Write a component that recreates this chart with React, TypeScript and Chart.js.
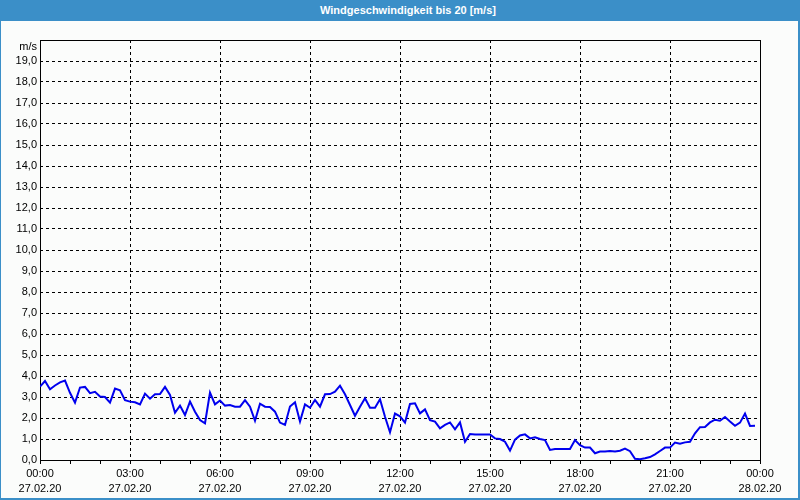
import React, { useEffect, useRef } from 'react';
import { Chart, registerables } from 'chart.js';

Chart.register(...registerables);

const TITLE = 'Windgeschwindigkeit bis 20 [m/s]';
const UNIT = 'm/s';
const SAMPLE_MINUTES = 10;
const DAY_MINUTES = 1440;
const MAJOR_MINUTES = 180;
const MINOR_MINUTES = 60;
const Y_MAX = 20;

// wind speed [m/s], one value every 10 minutes starting 27.02.20 00:00
const windSpeed = [
  3.49, 3.76, 3.37, 3.55, 3.70, 3.78, 3.20, 2.73, 3.45, 3.48,
  3.18, 3.25, 3.02, 3.00, 2.73, 3.40, 3.32, 2.85, 2.78, 2.75,
  2.65, 3.16, 2.92, 3.13, 3.14, 3.48, 3.10, 2.25, 2.59, 2.14,
  2.78, 2.30, 1.90, 1.75, 3.21, 2.65, 2.83, 2.59, 2.62, 2.54,
  2.54, 2.85, 2.54, 1.87, 2.68, 2.54, 2.52, 2.30, 1.78, 1.67,
  2.55, 2.75, 1.83, 2.65, 2.49, 2.86, 2.54, 3.13, 3.14, 3.25,
  3.54, 3.13, 2.62, 2.11, 2.54, 2.94, 2.49, 2.49, 2.89, 2.06,
  1.32, 2.21, 2.08, 1.78, 2.67, 2.70, 2.22, 2.41, 1.90, 1.83,
  1.51, 1.67, 1.79, 1.46, 1.79, 0.87, 1.24, 1.22, 1.22, 1.22,
  1.22, 1.03, 1.00, 0.87, 0.45, 0.97, 1.17, 1.22, 1.03, 1.08,
  1.00, 0.95, 0.48, 0.52, 0.52, 0.52, 0.52, 0.95, 0.71, 0.59,
  0.59, 0.32, 0.40, 0.40, 0.43, 0.40, 0.44, 0.54, 0.42, 0.06,
  0.04, 0.08, 0.14, 0.27, 0.43, 0.59, 0.59, 0.83, 0.78, 0.84,
  0.87, 1.27, 1.56, 1.57, 1.79, 1.92, 1.87, 2.05, 1.83, 1.63,
  1.78, 2.21, 1.62, 1.63,
];

const xTimeLabels = ['00:00', '03:00', '06:00', '09:00', '12:00', '15:00', '18:00', '21:00', '00:00'];
const xDateLabels = ['27.02.20', '27.02.20', '27.02.20', '27.02.20', '27.02.20', '27.02.20', '27.02.20', '27.02.20', '28.02.20'];
const yTickLabels = [
  '0,0', '1,0', '2,0', '3,0', '4,0', '5,0', '6,0', '7,0', '8,0', '9,0',
  '10,0', '11,0', '12,0', '13,0', '14,0', '15,0', '16,0', '17,0', '18,0', '19,0',
];

const FONT_FAMILY = '"Liberation Sans", Arial, sans-serif';

const framePlugin = {
  id: 'plotFrame',
  beforeDatasetsDraw(chart: any) {
    const { ctx, chartArea: a } = chart;
    ctx.save();
    ctx.strokeStyle = '#000';
    ctx.lineWidth = 1;
    ctx.setLineDash([]);
    const l = Math.round(a.left) + 0.5;
    const t = Math.round(a.top) + 0.5;
    const r = Math.round(a.right) + 0.5;
    const b = Math.round(a.bottom) + 0.5;
    ctx.strokeRect(l, t, r - l, b - t);
    ctx.restore();
  },
  afterDraw(chart: any) {
    const { ctx, chartArea: a } = chart;
    ctx.save();
    ctx.font = `11px ${FONT_FAMILY}`;
    ctx.fillStyle = '#000';
    ctx.textAlign = 'right';
    ctx.textBaseline = 'middle';
    ctx.fillText(UNIT, a.left - 3, a.top + 7);
    ctx.restore();
  },
};

export default function App() {
  const canvasRef = useRef<HTMLCanvasElement | null>(null);

  useEffect(() => {
    const canvas = canvasRef.current;
    if (!canvas) return;
    const points = windSpeed.map((v, i) => ({ x: i * SAMPLE_MINUTES, y: v }));
    const chart = new Chart(canvas, {
      type: 'line',
      data: {
        datasets: [
          {
            data: points,
            borderColor: '#0000ee',
            borderWidth: 2,
            pointRadius: 0,
            tension: 0,
            fill: false,
          },
        ],
      },
      options: {
        animation: false,
        responsive: false,
        events: [],
        layout: { padding: { top: 19, right: 38, bottom: 0, left: 0 } },
        plugins: {
          legend: { display: false },
          title: { display: false },
          tooltip: { enabled: false },
        },
        scales: {
          x: {
            type: 'linear',
            min: 0,
            max: DAY_MINUTES,
            afterFit: (s: any) => {
              s.height = 38;
            },
            ticks: {
              stepSize: MINOR_MINUTES,
              autoSkip: false,
              maxRotation: 0,
              minRotation: 0,
              padding: 3,
              color: '#000',
              font: { family: FONT_FAMILY, size: 11, lineHeight: 1.35 },
              callback: (v: any) => {
                const n = Number(v);
                if (n % MAJOR_MINUTES !== 0) return '';
                const k = n / MAJOR_MINUTES;
                return [xTimeLabels[k], xDateLabels[k]];
              },
            },
            grid: {
              color: (c: any) =>
                c.tick && c.tick.value % MAJOR_MINUTES === 0 && c.tick.value > 0 && c.tick.value < DAY_MINUTES
                  ? '#000'
                  : 'rgba(0,0,0,0)',
              lineWidth: 1,
              drawTicks: true,
              tickLength: 4,
              tickColor: '#000',
              tickWidth: 1,
            },
            border: { display: false, dash: [3, 3] },
          },
          y: {
            min: 0,
            max: Y_MAX,
            afterFit: (s: any) => {
              s.width = 39;
            },
            ticks: {
              stepSize: 1,
              padding: 3,
              color: '#000',
              font: { family: FONT_FAMILY, size: 11 },
              callback: (v: any) => {
                const n = Math.round(Number(v));
                return n < yTickLabels.length ? yTickLabels[n] : '';
              },
            },
            grid: {
              drawTicks: false,
              lineWidth: 1,
              color: (c: any) =>
                c.tick && c.tick.value > 0 && c.tick.value < Y_MAX ? '#000' : 'rgba(0,0,0,0)',
            },
            border: { display: false, dash: [3, 3] },
          },
        },
      },
      plugins: [framePlugin],
    } as any);
    return () => chart.destroy();
  }, []);

  return (
    <div
      style={{
        position: 'fixed',
        left: 0,
        top: 0,
        width: 800,
        height: 500,
        background: '#3b8fc8',
        overflow: 'hidden',
      }}
    >
      <div
        style={{
          height: 21,
          lineHeight: '21px',
          color: '#fff',
          fontFamily: FONT_FAMILY,
          fontWeight: 'bold',
          fontSize: 11,
          textAlign: 'center',
          paddingLeft: 16,
        }}
      >
        {TITLE}
      </div>
      <div
        style={{
          position: 'absolute',
          left: 1,
          top: 21,
          width: 797,
          height: 477,
          background: '#fbfcfb',
        }}
      >
        <canvas ref={canvasRef} width={797} height={477} style={{ display: 'block', width: 797, height: 477 }} />
      </div>
    </div>
  );
}
